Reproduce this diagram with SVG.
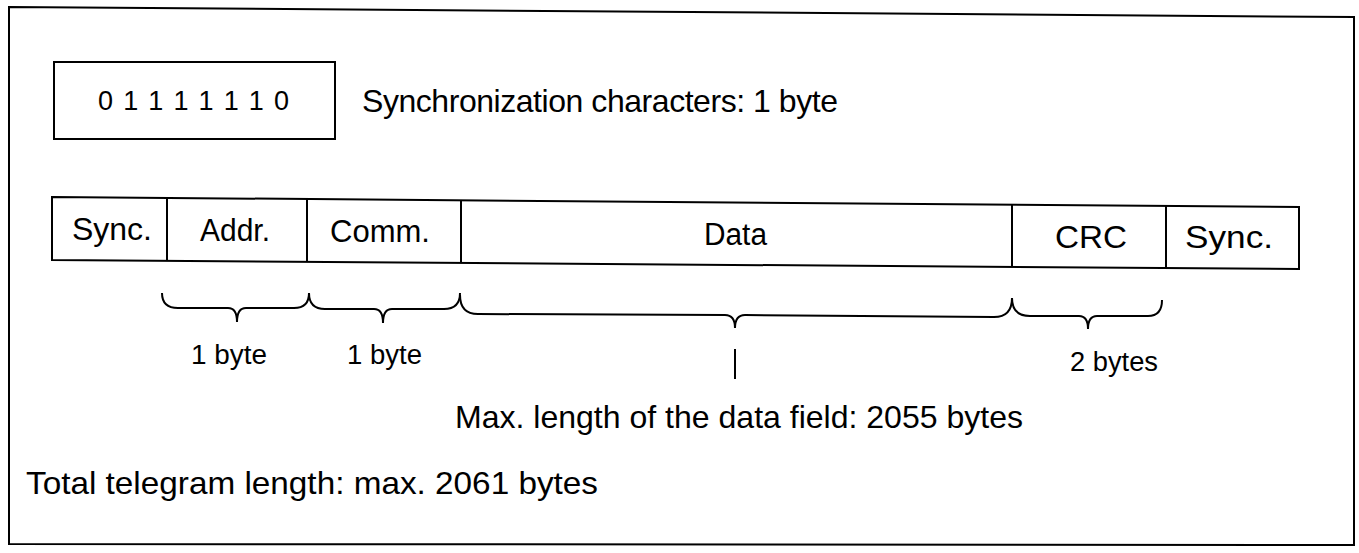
<svg xmlns="http://www.w3.org/2000/svg" width="1359" height="553" viewBox="0 0 1359 553">
<style>
.ln{fill:none;stroke:#000;stroke-width:2}
.t{font-family:"Liberation Sans",Arial,sans-serif;fill:#000}
.big{font-size:32px}
.mid{font-size:31px}
.dg{font-size:27px}
.sm{font-size:27px}
</style>
<rect width="1359" height="553" fill="#fff"/>
<polygon id="frame" class="ln" points="9,7 1354,17 1354,545 9,544"/>
<g id="syncdef">
<rect class="ln" x="54" y="62" width="281" height="77"/>
<text class="t dg" x="98" y="110" textLength="191" lengthAdjust="spacing">0 1 1 1 1 1 1 0</text>
<text class="t big" x="362" y="112" textLength="476" lengthAdjust="spacing">Synchronization characters: 1 byte</text>
</g>
<g id="telegram">
<polygon class="ln" points="52,197 1299,207 1299,269 52,260"/>
<g id="f-sync1"><text class="t mid" x="72" y="240" textLength="80" lengthAdjust="spacingAndGlyphs">Sync.</text></g>
<g id="f-addr"><line class="ln" x1="167" y1="197.9" x2="167" y2="260.8"/><text class="t mid" x="200" y="241" textLength="70" lengthAdjust="spacingAndGlyphs">Addr.</text></g>
<g id="f-comm"><line class="ln" x1="307" y1="199" x2="307" y2="261.8"/><text class="t mid" x="330" y="242" textLength="100" lengthAdjust="spacingAndGlyphs">Comm.</text></g>
<g id="f-data"><line class="ln" x1="461" y1="200.3" x2="461" y2="263"/><text class="t mid" x="704" y="245" textLength="63" lengthAdjust="spacingAndGlyphs">Data</text></g>
<g id="f-crc"><line class="ln" x1="1012" y1="204.7" x2="1012" y2="267"/><text class="t mid" x="1055" y="248" textLength="72" lengthAdjust="spacingAndGlyphs">CRC</text></g>
<g id="f-sync2"><line class="ln" x1="1166" y1="205.9" x2="1166" y2="268"/><text class="t mid" x="1185" y="248" textLength="88" lengthAdjust="spacingAndGlyphs">Sync.</text></g>
</g>
<g id="connectors">
<path class="ln" d="M162,293 Q162,308 178,308 L228,308 Q237,308 237,322 Q237,308 246,308 L294,308 Q309,308 309,293"/>
<path class="ln" d="M309,293 Q309,309 325,309 L374,309 Q383,309 383,323 Q383,309 392,309 L444,309 Q460,309 460,293"/>
<path class="ln" d="M460,295 Q460,314 478,314 L725,315 Q735,315 735,328 Q735,315 745,315 L994,317 Q1012,317 1012,298"/>
<path class="ln" d="M1012,298 Q1012,316 1030,316 L1079,316 Q1088,316 1088,329 Q1088,316 1097,316 L1148,316 Q1162,316 1162,300"/>
<line class="ln" x1="735" y1="349" x2="735" y2="379"/>
</g>
<g id="labels">
<text class="t sm" x="191" y="364" textLength="76" lengthAdjust="spacingAndGlyphs">1 byte</text>
<text class="t sm" x="347" y="364" textLength="75" lengthAdjust="spacingAndGlyphs">1 byte</text>
<text class="t sm" x="1070" y="371" textLength="88" lengthAdjust="spacingAndGlyphs">2 bytes</text>
<text class="t big" x="455" y="428" textLength="568" lengthAdjust="spacingAndGlyphs">Max. length of the data field: 2055 bytes</text>
<text class="t big" x="26" y="494" textLength="572" lengthAdjust="spacingAndGlyphs">Total telegram length: max. 2061 bytes</text>
</g>
</svg>
